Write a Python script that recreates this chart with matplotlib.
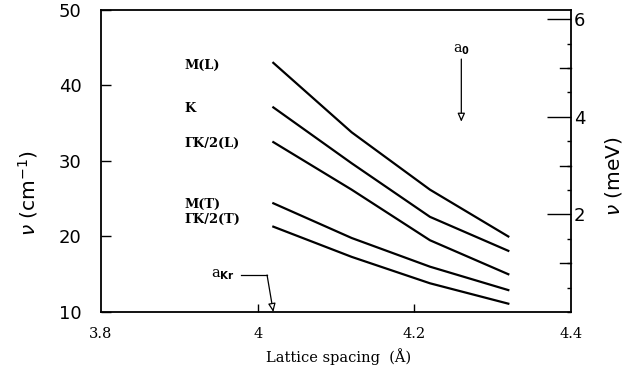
import matplotlib
matplotlib.use("Agg")
import matplotlib.pyplot as plt
from matplotlib.ticker import FixedLocator, MultipleLocator

# Phonon frequencies (cm^-1) versus lattice spacing (Å)
spacing = [4.02, 4.12, 4.22, 4.32]
modes = ["M(L)", "K", "ΓK/2(L)", "M(T)", "ΓK/2(T)"]
freq_ML = [43.0, 33.8, 26.2, 20.0]
freq_K = [37.1, 29.7, 22.6, 18.1]
freq_GK2L = [32.5, 26.2, 19.5, 15.0]
freq_MT = [24.4, 19.8, 16.0, 12.9]
freq_GK2T = [21.3, 17.3, 13.8, 11.1]
series = [freq_ML, freq_K, freq_GK2L, freq_MT, freq_GK2T]
label_y = [42.7, 36.9, 32.3, 24.2, 22.2]

# Reference lattice constants marked with arrows
a_kr = 4.02
a_0 = 4.26

x_ticks = [3.8, 4.0, 4.2, 4.4]
x_ticklabels = ["3.8", "4", "4.2", "4.4"]
y_ticks = [10, 20, 30, 40, 50]
mev_major = [2, 4, 6]
mev_medium = [1, 3, 5]

fig = plt.figure(figsize=(6.34, 3.70), dpi=100)
ax = fig.add_axes([0.1593, 0.1568, 0.7413, 0.8162])

for vals in series:
    ax.plot(spacing, vals, color="black", lw=1.6, solid_joinstyle="round")

for name, yv in zip(modes, label_y):
    ax.text(3.907, yv, name, family="DejaVu Serif", fontsize=9.3,
            fontweight="bold", ha="left", va="center")

ax.set_xlim(3.8, 4.4)
ax.set_ylim(10, 50)

ax.set_xticks(x_ticks)
ax.set_xticklabels(x_ticklabels, family="DejaVu Serif", fontsize=10.5)
ax.set_yticks(y_ticks)
ax.set_yticklabels([str(v) for v in y_ticks], family="DejaVu Sans",
                   fontsize=13)
ax.tick_params(axis="both", direction="in", width=1.0)
ax.tick_params(axis="y", length=7, pad=14)
ax.tick_params(axis="x", length=6, pad=11)
# hide corner ticks
for t in ax.xaxis.get_major_ticks():
    if t.get_loc() in (3.8, 4.4):
        t.tick1line.set_visible(False)

for s in ax.spines.values():
    s.set_linewidth(1.3)

ax.set_xlabel("Lattice spacing  (Å)", family="DejaVu Serif", fontsize=10.5)
ax.xaxis.set_label_coords(0.506, -0.119)
ax.set_ylabel(r"$\nu$ (cm$^{-1}$)", family="DejaVu Sans", fontsize=14.5)
ax.yaxis.set_label_coords(-0.13, 0.394)

# Energy scale on the right
ax2 = ax.twinx()
ax2.set_ylim(0, 302 / 48.8)
ax2.yaxis.set_major_locator(FixedLocator(mev_major))
ax2.yaxis.set_minor_locator(MultipleLocator(0.5))
ax2.set_yticklabels([str(v) for v in mev_major], family="DejaVu Sans",
                    fontsize=13)
ax2.tick_params(axis="y", which="major", direction="in", length=17,
                width=1.0, pad=2)
ax2.tick_params(axis="y", which="minor", direction="in", length=3, width=1.0)
# medium ticks at odd integers
for m in mev_medium:
    ax2.plot([1.0, 0.977], [m, m], transform=ax2.get_yaxis_transform(),
             color="black", lw=1.0, clip_on=False)
ax2.set_ylabel(r"$\nu$ (meV)", family="DejaVu Sans", fontsize=14.5)
ax2.yaxis.set_label_coords(1.068, 0.45)
for s in ax2.spines.values():
    s.set_visible(False)

# a_Kr marker: label, horizontal leader, slanted arrow to the axis
kr_y = 14.9
ax.text(3.971, kr_y, r"a$_{\mathbf{Kr}}$", family="DejaVu Serif",
        fontsize=10.5, ha="right", va="center")
ax.plot([3.979, 4.012], [kr_y, kr_y], color="black", lw=0.9)
ax.annotate("", xy=(a_kr, 10), xytext=(4.012, kr_y),
            arrowprops=dict(arrowstyle="-|>,head_length=0.5,head_width=0.22",
                            color="black", fc="white", lw=0.9,
                            shrinkA=0, shrinkB=0))

# a_0 marker
ax.text(a_0, 44.7, r"a$_{\mathbf{0}}$", family="DejaVu Serif", fontsize=10,
        ha="center", va="center")
ax.annotate("", xy=(a_0, 35.2), xytext=(a_0, 43.5),
            arrowprops=dict(arrowstyle="-|>,head_length=0.5,head_width=0.22",
                            color="black", fc="white", lw=0.9,
                            shrinkA=0, shrinkB=0))

fig.savefig("out.png", dpi=100)
